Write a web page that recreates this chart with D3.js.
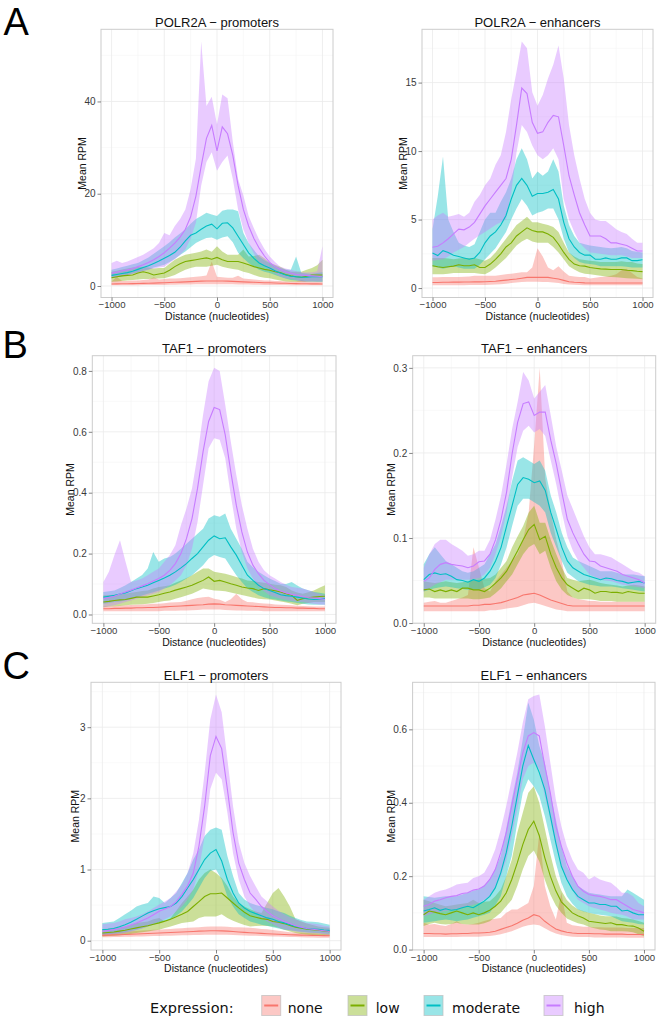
<!DOCTYPE html>
<html>
<head>
<meta charset="utf-8">
<script src="https://cdn.jsdelivr.net/npm/d3@7"></script>
<style>
  body { margin: 0; background: #fff; }
  svg { display: block; }
</style>
</head>
<body>
<script>
// distance from centre, nucleotides
var distance = [-1000, -950, -900, -850, -800, -750, -700, -650, -600, -550,
  -500, -450, -400, -350, -300, -250, -200, -150, -100, -50,
  0, 50, 100, 150, 200, 250, 300, 350, 400, 450,
  500, 550, 600, 650, 700, 750, 800, 850, 900, 950, 1000];

var levels = ["none", "low", "moderate", "high"];
var levelColors = ["#F8766D", "#7CAE00", "#00BFC4", "#C77CFF"];
var xTicks = [-1000, -500, 0, 500, 1000];

// ---- POLR2A promoters
var ppNoneMean = [0.45, 0.47, 0.49, 0.5, 0.52, 0.55, 0.57, 0.6, 0.63, 0.67,
  0.7, 0.75, 0.8, 0.85, 0.9, 0.95, 1.0, 1.05, 1.1, 1.1,
  1.1, 1.1, 1.05, 1.0, 0.95, 0.9, 0.85, 0.8, 0.75, 0.72,
  0.7, 0.65, 0.6, 0.58, 0.55, 0.52, 0.5, 0.48, 0.47, 0.46, 0.45];
var ppNoneLo = [0.15, 0.15, 0.16, 0.17, 0.18, 0.19, 0.2, 0.21, 0.22, 0.23,
  0.24, 0.26, 0.28, 0.3, 0.32, 0.34, 0.36, 0.38, 0.4, 0.4,
  0.4, 0.4, 0.38, 0.36, 0.34, 0.32, 0.3, 0.28, 0.26, 0.24,
  0.23, 0.22, 0.21, 0.2, 0.19, 0.18, 0.17, 0.16, 0.15, 0.15, 0.15];
var ppNoneHi = [1.0, 2.0, 1.1, 1.1, 1.2, 1.2, 1.3, 1.4, 1.9, 1.4,
  1.5, 1.6, 1.6, 1.7, 1.8, 1.9, 2.0, 2.1, 2.3, 5.3,
  2.0, 1.9, 1.8, 1.8, 2.2, 1.6, 1.5, 1.4, 1.3, 1.2,
  1.2, 1.1, 1.1, 1.0, 1.0, 1.0, 1.3, 1.0, 0.9, 0.9, 0.9];
var ppLowMean = [1.8, 2.0, 2.2, 2.3, 2.4, 2.8, 3.1, 2.8, 2.4, 2.6,
  2.8, 3.4, 4.2, 4.8, 5.3, 5.5, 5.7, 5.9, 6.1, 5.8,
  6.2, 5.7, 5.3, 5.3, 5.3, 5.0, 4.6, 4.2, 3.9, 3.6,
  3.4, 3.1, 2.9, 2.5, 2.2, 2.0, 1.9, 2.1, 2.4, 2.4, 2.4];
var ppLowLo = [0.9, 1.0, 1.1, 1.2, 1.3, 1.4, 1.5, 1.5, 1.6, 1.6,
  1.7, 2.0, 2.4, 3.0, 3.5, 3.9, 4.2, 4.2, 4.2, 4.4,
  4.6, 4.2, 3.9, 3.7, 3.5, 3.1, 2.8, 2.4, 2.0, 1.8,
  1.7, 1.4, 1.2, 1.0, 0.9, 0.9, 0.9, 0.9, 0.9, 0.9, 0.9];
var ppLowHi = [3.1, 3.3, 3.6, 3.8, 4.0, 4.2, 4.2, 4.0, 3.8, 3.9,
  3.9, 4.8, 5.7, 6.3, 6.8, 7.0, 7.2, 7.5, 7.9, 7.4,
  8.6, 7.5, 6.8, 6.8, 6.8, 7.9, 6.4, 6.5, 6.8, 6.0,
  5.0, 4.6, 4.2, 3.6, 3.1, 3.1, 3.1, 3.5, 3.9, 4.5, 5.7];
var ppModMean = [2.3, 2.5, 2.7, 2.9, 3.2, 3.6, 4.0, 4.4, 4.9, 5.4,
  6.0, 6.6, 7.3, 8.4, 9.8, 11.0, 11.5, 12.3, 13.0, 13.4,
  12.4, 13.6, 13.7, 12.6, 10.8, 9.0, 7.2, 6.0, 5.0, 4.4,
  3.9, 3.3, 2.8, 2.4, 2.1, 2.0, 1.9, 1.9, 2.0, 2.0, 2.0];
var ppModLo = [1.7, 1.9, 2.1, 2.4, 2.7, 3.0, 3.3, 3.6, 4.0, 4.3,
  4.6, 5.2, 5.9, 6.7, 7.5, 8.4, 9.3, 9.9, 10.4, 10.5,
  10.0, 10.5, 10.8, 9.5, 7.2, 6.0, 5.0, 4.2, 3.5, 3.1,
  2.8, 2.4, 2.0, 1.6, 1.3, 1.2, 1.1, 1.0, 1.0, 0.9, 0.9];
var ppModHi = [3.5, 3.8, 4.1, 4.4, 4.7, 5.0, 5.6, 6.2, 7.0, 7.8,
  8.6, 9.5, 10.5, 11.4, 12.3, 13.5, 14.5, 15.2, 15.9, 15.5,
  15.2, 16.3, 16.6, 16.6, 16.2, 11.5, 9.3, 7.8, 6.4, 5.6,
  5.0, 4.4, 3.9, 3.6, 3.5, 6.4, 2.8, 2.7, 2.6, 2.8, 3.0];
var ppHighMean = [2.8, 3.0, 3.3, 3.5, 3.8, 4.2, 4.6, 5.1, 5.7, 6.4,
  7.2, 8.2, 9.3, 10.6, 12.3, 15.0, 19.5, 26, 32, 34.8,
  29.3, 34.5, 33.0, 28.3, 21.8, 16.6, 13.0, 10.3, 8.2, 6.5,
  5.1, 4.2, 3.6, 3.1, 2.8, 2.5, 2.4, 2.3, 2.2, 2.1, 2.0];
var ppHighLo = [1.7, 1.9, 2.1, 2.3, 2.6, 2.9, 3.2, 3.5, 3.8, 4.0,
  4.2, 5.0, 5.8, 6.8, 7.9, 10.3, 13.7, 21.8, 26.9, 29,
  25, 26.9, 28.3, 23.2, 16.6, 12.3, 9.3, 7.0, 5.0, 4.2,
  3.5, 2.7, 2.0, 1.7, 1.5, 1.3, 1.0, 1.0, 1.0, 1.0, 1.0];
var ppHighHi = [5.0, 5.5, 5.0, 5.3, 5.8, 6.3, 6.8, 7.5, 8.2, 9.3,
  11.5, 11.0, 13.0, 14.5, 16.6, 21, 27.6, 53, 39, 41,
  35, 41.5, 40.7, 31.2, 23.2, 19.6, 15.2, 12.5, 10.0, 8.0,
  6.4, 5.2, 4.2, 3.8, 3.5, 3.2, 3.0, 2.9, 3.0, 3.2, 8.6];
var ppTicks = [0, 20, 40];

// ---- POLR2A enhancers
var peNoneMean = [0.41, 0.41, 0.42, 0.42, 0.43, 0.43, 0.44, 0.44, 0.45, 0.45,
  0.46, 0.48, 0.5, 0.54, 0.58, 0.62, 0.66, 0.72, 0.78, 0.78,
  0.78, 0.78, 0.78, 0.72, 0.66, 0.56, 0.46, 0.42, 0.4, 0.38,
  0.37, 0.37, 0.37, 0.37, 0.37, 0.37, 0.37, 0.37, 0.37, 0.37, 0.37];
var peNoneLo = [0.2, 0.2, 0.2, 0.2, 0.21, 0.21, 0.21, 0.22, 0.22, 0.22,
  0.23, 0.24, 0.26, 0.28, 0.32, 0.36, 0.4, 0.44, 0.46, 0.46,
  0.46, 0.45, 0.44, 0.4, 0.36, 0.3, 0.26, 0.24, 0.22, 0.21,
  0.2, 0.2, 0.2, 0.2, 0.2, 0.2, 0.2, 0.2, 0.2, 0.2, 0.2];
var peNoneHi = [0.78, 0.78, 0.8, 0.8, 0.8, 0.8, 0.82, 0.85, 0.9, 0.9,
  0.9, 0.9, 0.9, 0.95, 1.0, 1.05, 1.1, 1.15, 1.15, 1.5,
  2.9, 2.3, 1.5, 1.3, 1.6, 1.2, 0.9, 0.85, 0.8, 0.8,
  0.7, 0.75, 0.8, 0.85, 0.9, 1.0, 1.3, 1.4, 1.1, 0.8, 0.7];
var peLowMean = [1.63, 1.55, 1.5, 1.55, 1.6, 1.7, 1.63, 1.63, 1.7, 1.5,
  1.5, 1.75, 2.1, 2.5, 3.0, 3.3, 3.8, 4.1, 4.4, 4.2,
  4.1, 4.1, 3.95, 3.7, 3.2, 2.6, 2.1, 1.75, 1.63, 1.6,
  1.5, 1.45, 1.4, 1.38, 1.35, 1.35, 1.35, 1.3, 1.27, 1.23, 1.2];
var peLowLo = [1.0, 1.0, 1.0, 1.05, 1.1, 1.1, 1.1, 1.1, 1.1, 1.05,
  1.0, 1.2, 1.5, 1.85, 2.2, 2.65, 3.1, 3.4, 3.6, 3.4,
  3.3, 3.3, 3.3, 3.0, 2.6, 2.1, 1.6, 1.35, 1.15, 1.05,
  1.0, 0.95, 0.9, 0.85, 0.8, 0.78, 0.75, 0.72, 0.7, 0.67, 0.65];
var peLowHi = [2.2, 2.2, 2.2, 2.15, 2.1, 2.15, 2.2, 2.2, 2.2, 2.1,
  2.0, 2.2, 2.6, 3.1, 3.6, 4.1, 4.6, 4.9, 5.2, 4.8,
  4.8, 4.7, 4.6, 4.45, 4.1, 3.3, 2.6, 2.3, 2.1, 2.05,
  2.0, 1.95, 1.9, 1.9, 1.9, 1.9, 1.95, 1.9, 1.9, 1.8, 1.75];
var peModMean = [2.56, 2.37, 2.73, 2.6, 2.4, 2.3, 2.2, 2.1, 2.2, 2.6,
  3.3, 3.8, 4.1, 4.6, 5.3, 6.5, 7.5, 8.0, 7.5, 6.7,
  6.9, 6.9, 7.0, 7.2, 6.5, 4.8, 3.6, 3.0, 2.6, 2.4,
  2.4, 2.1, 2.1, 2.2, 2.1, 2.1, 2.2, 2.2, 2.0, 2.0, 2.07];
var peModLo = [1.6, 1.5, 1.4, 1.5, 1.6, 1.5, 1.4, 1.4, 1.4, 1.7,
  2.1, 2.5, 2.9, 3.5, 4.1, 5.0, 5.8, 6.5, 6.0, 5.3,
  5.5, 5.6, 5.8, 5.8, 5.0, 3.6, 2.6, 2.2, 1.9, 1.8,
  1.75, 1.7, 1.6, 1.6, 1.6, 1.6, 1.6, 1.55, 1.5, 1.5, 1.5];
var peModHi = [4.3, 6.7, 9.6, 5.0, 4.1, 3.3, 3.1, 3.0, 3.2, 4.1,
  5.0, 5.5, 5.5, 6.3, 7.0, 8.0, 9.4, 10.2, 9.4, 8.0,
  8.5, 8.2, 8.5, 9.4, 8.5, 6.0, 4.6, 3.8, 3.3, 3.2,
  3.1, 3.05, 3.0, 2.95, 2.9, 2.95, 3.0, 2.9, 2.7, 2.65, 2.6];
var peHighMean = [2.98, 3.05, 3.3, 3.6, 3.95, 4.3, 4.25, 4.45, 4.8, 5.4,
  6.0, 6.5, 7.0, 7.5, 8.0, 9.4, 11.9, 14.6, 14.2, 12.1,
  11.3, 11.4, 12.1, 12.6, 12.5, 10.4, 8.2, 6.8, 5.5, 4.6,
  3.8, 3.8, 3.8, 3.6, 3.3, 3.3, 3.2, 3.1, 2.9, 2.7, 2.7];
var peHighLo = [2.0, 2.05, 2.1, 2.3, 2.6, 2.8, 3.0, 3.3, 3.6, 3.85,
  4.1, 4.35, 4.6, 4.8, 5.0, 7.0, 9.9, 11.9, 11.4, 10.4,
  9.7, 9.4, 9.7, 10.2, 9.4, 6.5, 5.0, 4.1, 3.3, 2.9,
  2.6, 2.55, 2.5, 2.45, 2.4, 2.4, 2.4, 2.3, 2.2, 2.2, 2.2];
var peHighHi = [5.0, 5.3, 5.5, 5.2, 5.3, 5.4, 5.2, 5.5, 6.3, 6.8,
  7.5, 8.0, 9.0, 9.7, 11.4, 13.8, 15.8, 18.0, 17.5, 14.3,
  13.3, 14.1, 15.3, 16.3, 17.7, 15.3, 11.9, 9.7, 8.0, 6.5,
  5.5, 5.0, 4.9, 4.9, 4.6, 4.3, 4.1, 3.95, 3.6, 3.3, 3.3];
var peTicks = [0, 5, 10, 15];

// ---- TAF1 promoters
var tpNoneMean = [0.019, 0.019, 0.020, 0.020, 0.021, 0.021, 0.022, 0.022, 0.023, 0.023,
  0.024, 0.025, 0.026, 0.027, 0.028, 0.029, 0.030, 0.031, 0.032, 0.034,
  0.035, 0.034, 0.032, 0.031, 0.030, 0.029, 0.028, 0.027, 0.026, 0.025,
  0.024, 0.023, 0.023, 0.022, 0.022, 0.021, 0.021, 0.020, 0.020, 0.019, 0.019];
var tpNoneLo = [0.011, 0.011, 0.011, 0.011, 0.011, 0.011, 0.011, 0.011, 0.011, 0.011,
  0.011, 0.012, 0.012, 0.012, 0.013, 0.013, 0.014, 0.015, 0.016, 0.016,
  0.016, 0.016, 0.015, 0.014, 0.013, 0.013, 0.012, 0.012, 0.012, 0.011,
  0.011, 0.011, 0.011, 0.011, 0.011, 0.011, 0.011, 0.011, 0.011, 0.011, 0.011];
var tpNoneHi = [0.026, 0.027, 0.028, 0.029, 0.030, 0.031, 0.032, 0.033, 0.034, 0.035,
  0.035, 0.037, 0.039, 0.040, 0.041, 0.045, 0.050, 0.054, 0.057, 0.058,
  0.052, 0.048, 0.041, 0.050, 0.068, 0.050, 0.041, 0.040, 0.038, 0.036,
  0.035, 0.033, 0.032, 0.031, 0.030, 0.029, 0.028, 0.027, 0.026, 0.026, 0.026];
var tpLowMean = [0.041, 0.043, 0.046, 0.048, 0.049, 0.053, 0.057, 0.057, 0.057, 0.061,
  0.065, 0.070, 0.074, 0.080, 0.085, 0.090, 0.096, 0.104, 0.112, 0.123,
  0.109, 0.112, 0.107, 0.101, 0.096, 0.090, 0.087, 0.085, 0.079, 0.085,
  0.081, 0.078, 0.074, 0.068, 0.063, 0.046, 0.052, 0.055, 0.057, 0.059, 0.060];
var tpLowLo = [0.024, 0.026, 0.027, 0.028, 0.030, 0.032, 0.033, 0.034, 0.035, 0.038,
  0.041, 0.044, 0.046, 0.052, 0.057, 0.062, 0.068, 0.076, 0.085, 0.082,
  0.079, 0.078, 0.076, 0.072, 0.068, 0.064, 0.060, 0.056, 0.052, 0.050,
  0.049, 0.046, 0.043, 0.039, 0.035, 0.030, 0.035, 0.038, 0.041, 0.041, 0.041];
var tpLowHi = [0.063, 0.064, 0.065, 0.066, 0.068, 0.071, 0.074, 0.077, 0.079, 0.085,
  0.090, 0.093, 0.096, 0.104, 0.112, 0.120, 0.129, 0.140, 0.151, 0.151,
  0.140, 0.137, 0.134, 0.129, 0.123, 0.118, 0.112, 0.110, 0.107, 0.104,
  0.101, 0.098, 0.096, 0.090, 0.079, 0.072, 0.068, 0.073, 0.079, 0.088, 0.096];
var tpModMean = [0.057, 0.060, 0.063, 0.067, 0.071, 0.078, 0.085, 0.090, 0.096, 0.104,
  0.112, 0.120, 0.129, 0.140, 0.153, 0.167, 0.184, 0.200, 0.222, 0.244,
  0.258, 0.249, 0.252, 0.222, 0.195, 0.162, 0.129, 0.112, 0.096, 0.085,
  0.079, 0.072, 0.065, 0.062, 0.060, 0.057, 0.054, 0.051, 0.049, 0.050, 0.052];
var tpModLo = [0.035, 0.038, 0.041, 0.043, 0.046, 0.051, 0.057, 0.062, 0.068, 0.073,
  0.079, 0.085, 0.090, 0.098, 0.107, 0.118, 0.129, 0.145, 0.162, 0.184,
  0.195, 0.189, 0.184, 0.156, 0.129, 0.107, 0.085, 0.074, 0.063, 0.057,
  0.052, 0.049, 0.046, 0.043, 0.041, 0.038, 0.035, 0.033, 0.032, 0.032, 0.032];
var tpModHi = [0.074, 0.076, 0.079, 0.087, 0.096, 0.107, 0.118, 0.130, 0.151, 0.205,
  0.173, 0.184, 0.189, 0.200, 0.216, 0.232, 0.249, 0.265, 0.282, 0.315,
  0.326, 0.321, 0.332, 0.282, 0.249, 0.216, 0.173, 0.155, 0.140, 0.129,
  0.118, 0.110, 0.101, 0.100, 0.107, 0.095, 0.085, 0.080, 0.074, 0.071, 0.068];
var tpHighMean = [0.052, 0.056, 0.060, 0.067, 0.074, 0.080, 0.087, 0.094, 0.101, 0.110,
  0.118, 0.129, 0.145, 0.167, 0.200, 0.249, 0.315, 0.414, 0.535, 0.634,
  0.680, 0.673, 0.590, 0.469, 0.359, 0.271, 0.205, 0.162, 0.134, 0.112,
  0.098, 0.085, 0.077, 0.071, 0.066, 0.063, 0.059, 0.056, 0.054, 0.052, 0.049];
var tpHighLo = [0.024, 0.027, 0.030, 0.035, 0.041, 0.046, 0.052, 0.057, 0.063, 0.068,
  0.074, 0.085, 0.096, 0.112, 0.129, 0.162, 0.216, 0.304, 0.425, 0.546,
  0.579, 0.574, 0.513, 0.392, 0.282, 0.205, 0.151, 0.118, 0.090, 0.076,
  0.063, 0.057, 0.052, 0.048, 0.044, 0.042, 0.041, 0.038, 0.035, 0.033, 0.032];
var tpHighHi = [0.107, 0.140, 0.195, 0.244, 0.173, 0.107, 0.112, 0.118, 0.129, 0.140,
  0.151, 0.173, 0.195, 0.227, 0.293, 0.348, 0.414, 0.524, 0.656, 0.766,
  0.810, 0.800, 0.689, 0.568, 0.458, 0.359, 0.282, 0.216, 0.173, 0.145,
  0.129, 0.118, 0.107, 0.098, 0.090, 0.088, 0.085, 0.080, 0.074, 0.068, 0.063];
var tpTicks = [0, 0.2, 0.4, 0.6, 0.8];

// ---- TAF1 enhancers
var teNoneMean = [0.020, 0.020, 0.020, 0.020, 0.020, 0.020, 0.020, 0.020, 0.020, 0.021,
  0.021, 0.022, 0.022, 0.023, 0.024, 0.026, 0.028, 0.030, 0.033, 0.034,
  0.035, 0.033, 0.030, 0.027, 0.025, 0.023, 0.021, 0.020, 0.020, 0.020,
  0.020, 0.020, 0.020, 0.020, 0.020, 0.020, 0.020, 0.020, 0.020, 0.020, 0.020];
var teNoneLo = [0.014, 0.014, 0.014, 0.014, 0.014, 0.014, 0.014, 0.014, 0.014, 0.014,
  0.014, 0.014, 0.015, 0.015, 0.016, 0.017, 0.018, 0.019, 0.021, 0.023,
  0.024, 0.022, 0.020, 0.018, 0.016, 0.015, 0.014, 0.014, 0.014, 0.014,
  0.014, 0.014, 0.014, 0.014, 0.014, 0.014, 0.014, 0.014, 0.014, 0.014, 0.014];
var teNoneHi = [0.024, 0.025, 0.026, 0.024, 0.024, 0.026, 0.028, 0.030, 0.033, 0.089,
  0.065, 0.041, 0.037, 0.049, 0.057, 0.065, 0.073, 0.081, 0.098, 0.130,
  0.210, 0.300, 0.170, 0.130, 0.098, 0.073, 0.037, 0.030, 0.028, 0.027,
  0.026, 0.026, 0.025, 0.025, 0.025, 0.025, 0.025, 0.025, 0.025, 0.025, 0.025];
var teLowMean = [0.039, 0.040, 0.037, 0.039, 0.037, 0.039, 0.037, 0.041, 0.041, 0.039,
  0.039, 0.037, 0.041, 0.047, 0.053, 0.061, 0.073, 0.085, 0.098, 0.110,
  0.116, 0.098, 0.102, 0.081, 0.065, 0.053, 0.045, 0.041, 0.037, 0.041,
  0.039, 0.035, 0.037, 0.037, 0.036, 0.036, 0.035, 0.037, 0.036, 0.035, 0.035];
var teLowLo = [0.030, 0.030, 0.029, 0.029, 0.029, 0.029, 0.029, 0.029, 0.029, 0.028,
  0.028, 0.029, 0.030, 0.035, 0.041, 0.049, 0.057, 0.069, 0.081, 0.089,
  0.093, 0.081, 0.085, 0.065, 0.049, 0.039, 0.033, 0.030, 0.028, 0.028,
  0.028, 0.027, 0.026, 0.026, 0.026, 0.025, 0.025, 0.025, 0.025, 0.025, 0.025];
var teLowHi = [0.049, 0.048, 0.047, 0.048, 0.049, 0.048, 0.047, 0.048, 0.049, 0.050,
  0.051, 0.052, 0.053, 0.057, 0.065, 0.073, 0.089, 0.102, 0.114, 0.130,
  0.138, 0.118, 0.118, 0.098, 0.081, 0.065, 0.053, 0.051, 0.049, 0.050,
  0.051, 0.049, 0.047, 0.046, 0.045, 0.044, 0.043, 0.044, 0.045, 0.044, 0.043];
var teModMean = [0.051, 0.057, 0.059, 0.057, 0.058, 0.055, 0.051, 0.050, 0.048, 0.051,
  0.049, 0.053, 0.061, 0.073, 0.089, 0.114, 0.138, 0.163, 0.171, 0.169,
  0.165, 0.167, 0.156, 0.130, 0.110, 0.089, 0.073, 0.065, 0.061, 0.057,
  0.055, 0.053, 0.051, 0.053, 0.052, 0.050, 0.049, 0.047, 0.048, 0.049, 0.047];
var teModLo = [0.037, 0.039, 0.041, 0.042, 0.043, 0.042, 0.041, 0.040, 0.039, 0.039,
  0.039, 0.042, 0.045, 0.053, 0.069, 0.089, 0.114, 0.138, 0.146, 0.146,
  0.142, 0.138, 0.130, 0.106, 0.089, 0.073, 0.059, 0.054, 0.049, 0.047,
  0.045, 0.044, 0.043, 0.043, 0.043, 0.042, 0.041, 0.040, 0.039, 0.038, 0.037];
var teModHi = [0.069, 0.081, 0.089, 0.081, 0.073, 0.069, 0.065, 0.061, 0.059, 0.061,
  0.065, 0.069, 0.081, 0.093, 0.114, 0.138, 0.167, 0.191, 0.195, 0.191,
  0.187, 0.191, 0.179, 0.150, 0.130, 0.106, 0.089, 0.077, 0.073, 0.070,
  0.067, 0.064, 0.061, 0.061, 0.061, 0.059, 0.057, 0.057, 0.057, 0.056, 0.055];
var teHighMean = [0.049, 0.053, 0.063, 0.069, 0.071, 0.069, 0.068, 0.067, 0.065, 0.067,
  0.072, 0.073, 0.081, 0.098, 0.122, 0.154, 0.199, 0.236, 0.258, 0.260,
  0.244, 0.248, 0.248, 0.215, 0.187, 0.154, 0.122, 0.106, 0.093, 0.081,
  0.073, 0.072, 0.067, 0.065, 0.063, 0.061, 0.057, 0.055, 0.053, 0.051, 0.047];
var teHighLo = [0.037, 0.041, 0.045, 0.048, 0.051, 0.051, 0.051, 0.051, 0.051, 0.052,
  0.053, 0.057, 0.065, 0.081, 0.102, 0.130, 0.171, 0.207, 0.226, 0.232,
  0.224, 0.228, 0.220, 0.191, 0.163, 0.130, 0.102, 0.085, 0.073, 0.065,
  0.057, 0.054, 0.051, 0.050, 0.049, 0.047, 0.045, 0.044, 0.043, 0.042, 0.041];
var teHighHi = [0.065, 0.081, 0.093, 0.098, 0.098, 0.093, 0.089, 0.085, 0.079, 0.081,
  0.085, 0.085, 0.098, 0.122, 0.150, 0.187, 0.228, 0.260, 0.295, 0.285,
  0.264, 0.272, 0.280, 0.244, 0.207, 0.179, 0.150, 0.134, 0.118, 0.102,
  0.089, 0.081, 0.081, 0.079, 0.077, 0.073, 0.069, 0.065, 0.061, 0.059, 0.055];
var teTicks = [0, 0.1, 0.2, 0.3];

// ---- ELF1 promoters
var epNoneMean = [0.075, 0.078, 0.081, 0.084, 0.087, 0.09, 0.094, 0.098, 0.101, 0.105,
  0.108, 0.111, 0.114, 0.118, 0.122, 0.126, 0.13, 0.134, 0.137, 0.14,
  0.14, 0.138, 0.134, 0.128, 0.122, 0.117, 0.112, 0.107, 0.102, 0.098,
  0.094, 0.09, 0.087, 0.084, 0.081, 0.078, 0.076, 0.074, 0.072, 0.071, 0.07];
var epNoneLo = [0.047, 0.048, 0.05, 0.052, 0.054, 0.056, 0.058, 0.06, 0.062, 0.064,
  0.066, 0.068, 0.07, 0.072, 0.075, 0.077, 0.079, 0.081, 0.083, 0.085,
  0.085, 0.084, 0.082, 0.08, 0.077, 0.074, 0.071, 0.068, 0.065, 0.062,
  0.06, 0.057, 0.055, 0.052, 0.05, 0.048, 0.046, 0.044, 0.042, 0.041, 0.04];
var epNoneHi = [0.108, 0.112, 0.117, 0.122, 0.127, 0.132, 0.137, 0.142, 0.148, 0.152,
  0.155, 0.16, 0.165, 0.17, 0.175, 0.18, 0.185, 0.19, 0.195, 0.2,
  0.2, 0.2, 0.195, 0.19, 0.19, 0.185, 0.18, 0.175, 0.165, 0.16,
  0.15, 0.14, 0.13, 0.12, 0.115, 0.11, 0.108, 0.105, 0.1, 0.098, 0.095];
var epLowMean = [0.108, 0.115, 0.122, 0.134, 0.146, 0.163, 0.18, 0.195, 0.21, 0.23,
  0.25, 0.275, 0.30, 0.335, 0.37, 0.41, 0.48, 0.55, 0.62, 0.66,
  0.66, 0.67, 0.60, 0.53, 0.46, 0.40, 0.35, 0.33, 0.31, 0.30,
  0.27, 0.26, 0.24, 0.215, 0.19, 0.175, 0.16, 0.153, 0.146, 0.136, 0.127];
var epLowLo = [0.06, 0.065, 0.07, 0.078, 0.085, 0.095, 0.108, 0.12, 0.13, 0.142,
  0.155, 0.178, 0.20, 0.225, 0.25, 0.26, 0.27, 0.32, 0.34, 0.34,
  0.34, 0.37, 0.32, 0.28, 0.25, 0.22, 0.20, 0.205, 0.21, 0.205,
  0.20, 0.18, 0.155, 0.13, 0.108, 0.095, 0.085, 0.08, 0.075, 0.072, 0.07];
var epLowHi = [0.16, 0.17, 0.18, 0.19, 0.20, 0.22, 0.25, 0.26, 0.27, 0.30,
  0.32, 0.27, 0.32, 0.42, 0.53, 0.62, 0.72, 0.86, 0.95, 1.00,
  0.95, 0.88, 0.77, 0.62, 0.53, 0.48, 0.44, 0.41, 0.39, 0.53,
  0.67, 0.74, 0.62, 0.48, 0.30, 0.27, 0.24, 0.22, 0.20, 0.19, 0.18];
var epModMean = [0.155, 0.16, 0.17, 0.195, 0.225, 0.26, 0.30, 0.345, 0.39, 0.42,
  0.45, 0.465, 0.48, 0.53, 0.62, 0.74, 0.86, 1.00, 1.14, 1.23,
  1.28, 1.12, 0.86, 0.67, 0.53, 0.46, 0.41, 0.38, 0.35, 0.32,
  0.30, 0.27, 0.25, 0.225, 0.20, 0.185, 0.17, 0.165, 0.16, 0.15, 0.145];
var epModLo = [0.085, 0.092, 0.10, 0.108, 0.117, 0.135, 0.155, 0.175, 0.20, 0.225,
  0.25, 0.275, 0.30, 0.35, 0.41, 0.50, 0.60, 0.74, 0.88, 0.98,
  1.00, 0.86, 0.62, 0.48, 0.37, 0.32, 0.27, 0.25, 0.225, 0.21,
  0.19, 0.17, 0.155, 0.145, 0.136, 0.127, 0.117, 0.112, 0.108, 0.10, 0.094];
var epModHi = [0.25, 0.26, 0.27, 0.32, 0.37, 0.42, 0.48, 0.51, 0.53, 0.62,
  0.60, 0.53, 0.60, 0.67, 0.81, 0.95, 1.14, 1.28, 1.47, 1.56,
  1.59, 1.56, 1.19, 0.91, 0.67, 0.58, 0.53, 0.50, 0.48, 0.46,
  0.44, 0.41, 0.39, 0.35, 0.32, 0.29, 0.27, 0.265, 0.26, 0.24, 0.225];
var epHighMean = [0.131, 0.143, 0.155, 0.172, 0.192, 0.22, 0.249, 0.283, 0.319, 0.365,
  0.413, 0.445, 0.48, 0.55, 0.65, 0.77, 0.95, 1.33, 1.89, 2.6,
  2.87, 2.7, 2.13, 1.52, 1.09, 0.86, 0.67, 0.58, 0.48, 0.41,
  0.35, 0.31, 0.27, 0.24, 0.21, 0.19, 0.17, 0.16, 0.15, 0.14, 0.13];
var epHighLo = [0.07, 0.077, 0.085, 0.095, 0.108, 0.125, 0.146, 0.17, 0.20, 0.235,
  0.27, 0.30, 0.34, 0.41, 0.48, 0.58, 0.72, 1.00, 1.47, 2.13,
  2.36, 2.27, 1.80, 1.23, 0.86, 0.62, 0.48, 0.39, 0.32, 0.27,
  0.23, 0.19, 0.16, 0.145, 0.13, 0.12, 0.11, 0.105, 0.10, 0.09, 0.085];
var epHighHi = [0.23, 0.24, 0.25, 0.27, 0.30, 0.32, 0.34, 0.37, 0.41, 0.46,
  0.51, 0.55, 0.60, 0.69, 0.79, 0.95, 1.23, 1.70, 2.36, 3.11,
  3.46, 3.21, 2.55, 1.89, 1.38, 1.09, 0.91, 0.76, 0.62, 0.55,
  0.48, 0.42, 0.37, 0.33, 0.30, 0.27, 0.25, 0.24, 0.23, 0.21, 0.20];
var epTicks = [0, 1, 2, 3];

// ---- ELF1 enhancers
var eeNoneMean = [0.044, 0.044, 0.043, 0.043, 0.042, 0.043, 0.043, 0.044, 0.044, 0.045,
  0.045, 0.046, 0.047, 0.05, 0.055, 0.06, 0.065, 0.072, 0.08, 0.086,
  0.095, 0.091, 0.077, 0.066, 0.056, 0.051, 0.047, 0.045, 0.044, 0.044,
  0.044, 0.043, 0.043, 0.042, 0.042, 0.042, 0.042, 0.041, 0.041, 0.041, 0.041];
var eeNoneLo = [0.034, 0.034, 0.034, 0.034, 0.034, 0.034, 0.034, 0.035, 0.035, 0.035,
  0.035, 0.036, 0.037, 0.039, 0.042, 0.046, 0.05, 0.056, 0.062, 0.066,
  0.068, 0.066, 0.058, 0.05, 0.044, 0.04, 0.037, 0.035, 0.034, 0.034,
  0.034, 0.033, 0.033, 0.033, 0.033, 0.033, 0.033, 0.032, 0.032, 0.032, 0.032];
var eeNoneHi = [0.073, 0.068, 0.07, 0.066, 0.064, 0.07, 0.077, 0.07, 0.068, 0.07,
  0.073, 0.078, 0.082, 0.084, 0.086, 0.10, 0.109, 0.109, 0.118, 0.127,
  0.173, 0.318, 0.173, 0.118, 0.082, 0.155, 0.073, 0.066, 0.064, 0.062,
  0.062, 0.061, 0.061, 0.06, 0.06, 0.06, 0.06, 0.059, 0.059, 0.059, 0.059];
var eeLowMean = [0.095, 0.105, 0.102, 0.098, 0.095, 0.10, 0.105, 0.10, 0.095, 0.10,
  0.095, 0.10, 0.107, 0.118, 0.132, 0.155, 0.191, 0.236, 0.286, 0.327,
  0.35, 0.31, 0.25, 0.20, 0.16, 0.13, 0.115, 0.10, 0.092, 0.086,
  0.077, 0.075, 0.073, 0.071, 0.073, 0.068, 0.068, 0.065, 0.064, 0.059, 0.05];
var eeLowLo = [0.064, 0.07, 0.073, 0.07, 0.068, 0.07, 0.073, 0.07, 0.068, 0.068,
  0.068, 0.072, 0.077, 0.088, 0.10, 0.118, 0.136, 0.173, 0.218, 0.255,
  0.27, 0.24, 0.19, 0.15, 0.12, 0.10, 0.085, 0.078, 0.072, 0.068,
  0.062, 0.058, 0.055, 0.053, 0.05, 0.05, 0.05, 0.049, 0.047, 0.042, 0.036];
var eeLowHi = [0.136, 0.132, 0.127, 0.122, 0.118, 0.12, 0.123, 0.125, 0.127, 0.136,
  0.127, 0.13, 0.132, 0.145, 0.164, 0.2, 0.245, 0.318, 0.373, 0.427,
  0.445, 0.40, 0.33, 0.26, 0.20, 0.16, 0.135, 0.12, 0.11, 0.105,
  0.10, 0.097, 0.093, 0.091, 0.091, 0.09, 0.086, 0.085, 0.082, 0.078, 0.073];
var eeModMean = [0.105, 0.109, 0.114, 0.107, 0.111, 0.107, 0.109, 0.114, 0.118, 0.114,
  0.123, 0.132, 0.145, 0.168, 0.209, 0.264, 0.336, 0.418, 0.50, 0.556,
  0.518, 0.482, 0.436, 0.364, 0.291, 0.227, 0.191, 0.164, 0.145, 0.136,
  0.127, 0.127, 0.123, 0.123, 0.118, 0.118, 0.105, 0.107, 0.10, 0.095, 0.095];
var eeModLo = [0.073, 0.075, 0.077, 0.08, 0.082, 0.08, 0.077, 0.08, 0.082, 0.087,
  0.091, 0.095, 0.10, 0.12, 0.145, 0.20, 0.255, 0.345, 0.427, 0.464,
  0.445, 0.418, 0.364, 0.30, 0.236, 0.182, 0.145, 0.125, 0.109, 0.104,
  0.10, 0.097, 0.095, 0.093, 0.091, 0.084, 0.077, 0.075, 0.073, 0.07, 0.068];
var eeModHi = [0.145, 0.143, 0.141, 0.143, 0.145, 0.145, 0.145, 0.15, 0.155, 0.16,
  0.164, 0.175, 0.191, 0.22, 0.255, 0.33, 0.409, 0.482, 0.573, 0.673,
  0.627, 0.555, 0.509, 0.427, 0.355, 0.282, 0.227, 0.2, 0.173, 0.164,
  0.155, 0.152, 0.15, 0.147, 0.145, 0.145, 0.145, 0.164, 0.155, 0.145, 0.136];
var eeHighMean = [0.118, 0.123, 0.132, 0.136, 0.141, 0.145, 0.147, 0.153, 0.155, 0.162,
  0.165, 0.173, 0.191, 0.218, 0.264, 0.318, 0.391, 0.464, 0.536, 0.582,
  0.591, 0.582, 0.50, 0.427, 0.336, 0.282, 0.236, 0.20, 0.173, 0.159,
  0.15, 0.147, 0.145, 0.141, 0.136, 0.136, 0.127, 0.118, 0.109, 0.105, 0.10];
var eeHighLo = [0.091, 0.095, 0.10, 0.103, 0.105, 0.107, 0.109, 0.113, 0.118, 0.122,
  0.127, 0.135, 0.145, 0.17, 0.20, 0.245, 0.309, 0.382, 0.464, 0.50,
  0.509, 0.491, 0.418, 0.355, 0.282, 0.227, 0.191, 0.163, 0.136, 0.127,
  0.118, 0.113, 0.109, 0.105, 0.10, 0.097, 0.095, 0.09, 0.082, 0.082, 0.082];
var eeHighHi = [0.136, 0.145, 0.155, 0.16, 0.164, 0.17, 0.177, 0.18, 0.182, 0.195,
  0.20, 0.209, 0.236, 0.273, 0.327, 0.391, 0.464, 0.536, 0.618, 0.682,
  0.691, 0.695, 0.609, 0.509, 0.409, 0.336, 0.282, 0.245, 0.218, 0.209,
  0.191, 0.20, 0.191, 0.186, 0.182, 0.17, 0.155, 0.155, 0.145, 0.127, 0.118];
var eeTicks = [0, 0.2, 0.4, 0.6];

// panel layout: [left, right, top, bottom] of the plotting box, x of the y title
var panels = [
  { title: "POLR2A \u2212 promoters", box: [101, 333, 29.3, 297.5], yTitleX: 82, ticks: ppTicks,
    series: [[ppNoneMean, ppNoneLo, ppNoneHi], [ppLowMean, ppLowLo, ppLowHi], [ppModMean, ppModLo, ppModHi], [ppHighMean, ppHighLo, ppHighHi]] },
  { title: "POLR2A \u2212 enhancers", box: [422, 653, 29.3, 297.5], yTitleX: 403, ticks: peTicks,
    series: [[peNoneMean, peNoneLo, peNoneHi], [peLowMean, peLowLo, peLowHi], [peModMean, peModLo, peModHi], [peHighMean, peHighLo, peHighHi]] },
  { title: "TAF1 \u2212 promoters", box: [92.3, 336, 355.7, 623.3], yTitleX: 70, ticks: tpTicks,
    series: [[tpNoneMean, tpNoneLo, tpNoneHi], [tpLowMean, tpLowLo, tpLowHi], [tpModMean, tpModLo, tpModHi], [tpHighMean, tpHighLo, tpHighHi]] },
  { title: "TAF1 \u2212 enhancers", box: [412.7, 655.7, 355.7, 623.3], yTitleX: 391, ticks: teTicks,
    series: [[teNoneMean, teNoneLo, teNoneHi], [teLowMean, teLowLo, teLowHi], [teModMean, teModLo, teModHi], [teHighMean, teHighLo, teHighHi]] },
  { title: "ELF1 \u2212 promoters", box: [91, 341, 682.3, 950], yTitleX: 75, ticks: epTicks,
    series: [[epNoneMean, epNoneLo, epNoneHi], [epLowMean, epLowLo, epLowHi], [epModMean, epModLo, epModHi], [epHighMean, epHighLo, epHighHi]] },
  { title: "ELF1 \u2212 enhancers", box: [412.6, 655, 682.3, 950], yTitleX: 391, ticks: eeTicks,
    series: [[eeNoneMean, eeNoneLo, eeNoneHi], [eeLowMean, eeLowLo, eeLowHi], [eeModMean, eeModLo, eeModHi], [eeHighMean, eeHighLo, eeHighHi]] }
];

var font = "'Liberation Sans', Arial, Helvetica, sans-serif";

var svg = d3.select("body").append("svg")
  .attr("width", 666)
  .attr("height", 1024);

svg.append("rect").attr("width", 666).attr("height", 1024).attr("fill", "#fff");

panels.forEach(function(p) {
  var L = p.box[0], R = p.box[1], T = p.box[2], B = p.box[3];

  // y range from ribbons, with ggplot's 5% expansion
  var lo = d3.min(p.series, function(s) { return d3.min(s[1]); });
  var hi = d3.max(p.series, function(s) { return d3.max(s[2]); });
  var pad = (hi - lo) * 0.05;

  var x = d3.scaleLinear().domain([-1100, 1100]).range([L, R]);
  var y = d3.scaleLinear().domain([lo - pad, hi + pad]).range([B, T]);

  var g = svg.append("g");

  // grid
  var step = p.ticks[1] - p.ticks[0];
  var yMinor = [];
  for (var v = p.ticks[0] - step / 2; v <= hi + pad; v += step) {
    if (v >= lo - pad) yMinor.push(v);
  }
  var xMinor = [-750, -250, 250, 750];

  g.selectAll(".ymin").data(yMinor).enter().append("line")
    .attr("x1", L).attr("x2", R)
    .attr("y1", function(d) { return y(d); }).attr("y2", function(d) { return y(d); })
    .attr("stroke", "#f5f5f5").attr("stroke-width", 0.6);
  g.selectAll(".xmin").data(xMinor).enter().append("line")
    .attr("y1", T).attr("y2", B)
    .attr("x1", function(d) { return x(d); }).attr("x2", function(d) { return x(d); })
    .attr("stroke", "#f5f5f5").attr("stroke-width", 0.6);
  g.selectAll(".ymaj").data(p.ticks).enter().append("line")
    .attr("x1", L).attr("x2", R)
    .attr("y1", function(d) { return y(d); }).attr("y2", function(d) { return y(d); })
    .attr("stroke", "#ebebeb").attr("stroke-width", 0.8);
  g.selectAll(".xmaj").data(xTicks).enter().append("line")
    .attr("y1", T).attr("y2", B)
    .attr("x1", function(d) { return x(d); }).attr("x2", function(d) { return x(d); })
    .attr("stroke", "#ebebeb").attr("stroke-width", 0.8);

  // ribbons, then lines
  var area = d3.area()
    .x(function(d, i) { return x(distance[i]); })
    .y0(function(d) { return y(d[0]); })
    .y1(function(d) { return y(d[1]); });
  var line = d3.line()
    .x(function(d, i) { return x(distance[i]); })
    .y(function(d) { return y(d); });

  p.series.forEach(function(s, k) {
    var band = s[1].map(function(v, i) { return [v, s[2][i]]; });
    g.append("path").attr("d", area(band))
      .attr("fill", levelColors[k]).attr("fill-opacity", 0.4).attr("stroke", "none");
  });
  p.series.forEach(function(s, k) {
    g.append("path").attr("d", line(s[0]))
      .attr("fill", "none").attr("stroke", levelColors[k]).attr("stroke-width", 1.1);
  });

  // border
  g.append("rect").attr("x", L).attr("y", T).attr("width", R - L).attr("height", B - T)
    .attr("fill", "none").attr("stroke", "#cccccc").attr("stroke-width", 1);

  // axes
  var fmt = step < 1 ? d3.format(".1f") : d3.format("d");
  var yAxis = d3.axisLeft(y).tickValues(p.ticks).tickSize(3.5).tickPadding(2)
    .tickFormat(function(d) { return fmt(d).replace("-", "\u2212"); });
  var xAxis = d3.axisBottom(x).tickValues(xTicks).tickSize(3.5).tickPadding(0.5)
    .tickFormat(function(d) { return String(d).replace("-", "\u2212"); });

  var ya = g.append("g").attr("transform", "translate(" + L + ",0)").call(yAxis);
  var xa = g.append("g").attr("transform", "translate(0," + B + ")").call(xAxis);
  [ya, xa].forEach(function(a) {
    a.select(".domain").remove();
    a.selectAll(".tick line").attr("stroke", "#666").attr("stroke-width", 0.8);
    a.selectAll(".tick text").attr("fill", "#3a3a3a")
      .style("font-family", font).style("font-size", "10px");
  });
  xa.selectAll(".tick text").style("font-size", "9.6px");

  // titles
  g.append("text").attr("x", (L + R) / 2).attr("y", T - 2.7)
    .attr("text-anchor", "middle").style("font-family", font).style("font-size", "13px")
    .attr("fill", "#111").text(p.title);
  g.append("text").attr("x", (L + R) / 2).attr("y", B + 22.2)
    .attr("text-anchor", "middle").style("font-family", font).style("font-size", "10.5px")
    .attr("fill", "#111").text("Distance (nucleotides)");
  g.append("text")
    .attr("transform", "translate(" + p.yTitleX + "," + ((T + B) / 2) + ") rotate(-90)")
    .attr("dy", "0.35em")
    .attr("text-anchor", "middle").style("font-family", font).style("font-size", "10.5px")
    .attr("fill", "#111").text("Mean RPM");
});

// row letters
var rowLetters = [["A", 3.5, 34.5], ["B", 2.5, 358], ["C", 2.5, 679]];
svg.selectAll(".rowLetter").data(rowLetters).enter().append("text")
  .attr("x", function(d) { return d[1]; }).attr("y", function(d) { return d[2]; })
  .style("font-family", font).style("font-size", "38px").attr("fill", "#000")
  .text(function(d) { return d[0]; });

// legend
var legendFont = "'DejaVu Sans', Verdana, sans-serif";
var keyX = [261.7, 348, 424, 544];
var labelX = [287.7, 375.7, 452, 574];
var lg = svg.append("g");
lg.append("text").attr("x", 150).attr("y", 1012.5)
  .style("font-family", legendFont).style("font-size", "14.5px").attr("fill", "#111")
  .text("Expression:");
levels.forEach(function(name, k) {
  lg.append("rect").attr("x", keyX[k]).attr("y", 995.5).attr("width", 19).attr("height", 20)
    .attr("fill", levelColors[k]).attr("fill-opacity", 0.4)
    .attr("stroke", "#bdbdbd").attr("stroke-opacity", 0.7).attr("stroke-width", 1);
  lg.append("line").attr("x1", keyX[k] + 2.5).attr("x2", keyX[k] + 16.5)
    .attr("y1", 1005.5).attr("y2", 1005.5)
    .attr("stroke", levelColors[k]).attr("stroke-width", 2);
  lg.append("text").attr("x", labelX[k]).attr("y", 1012.5)
    .style("font-family", legendFont).style("font-size", "14px").attr("fill", "#111")
    .text(name);
});
</script>
</body>
</html>
